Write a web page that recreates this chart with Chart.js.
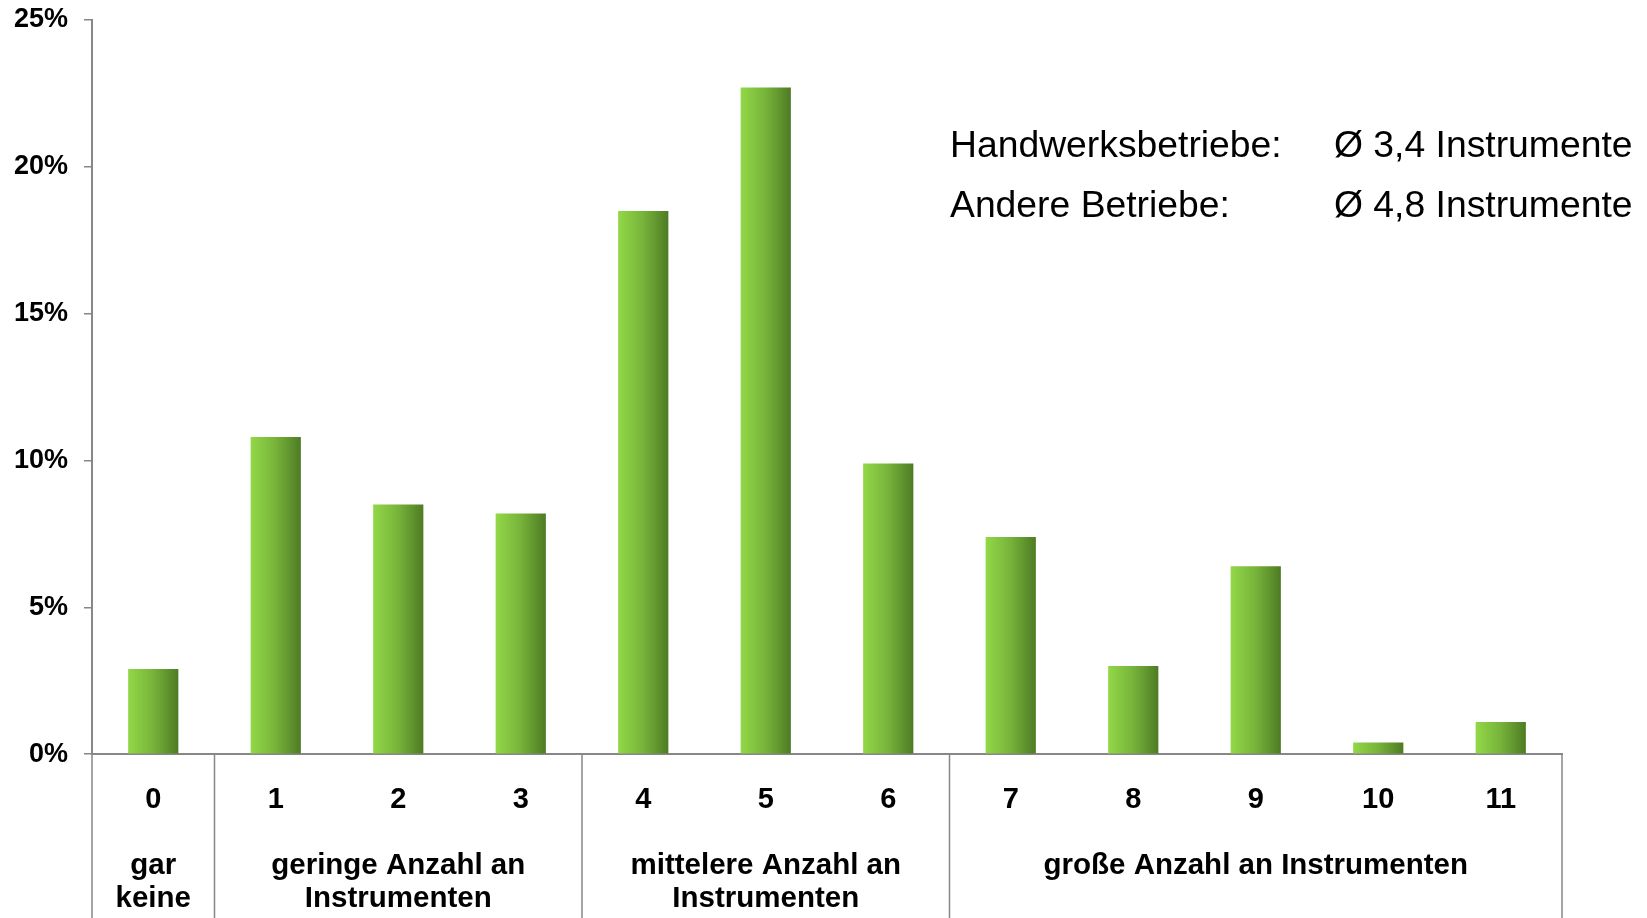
<!DOCTYPE html>
<html>
<head>
<meta charset="utf-8">
<title>Instrumente</title>
<style>
  * { margin: 0; padding: 0; box-sizing: border-box; }
  body { background: #fff; overflow: hidden; }
  #wrap { position: relative; width: 1647px; height: 918px; }
  .note {
    position: absolute;
    top: 113.6px;
    font-family: "Liberation Sans", Arial, sans-serif;
    font-size: 37.3px;
    line-height: 60.6px;
    color: #000;
    white-space: pre;
  }
</style>
</head>
<body>
<div id="wrap">
  <canvas id="myChart"></canvas>
  <div class="note" id="noteLeft" style="left:950px"></div>
  <div class="note" id="noteRight" style="left:1334px"></div>
</div>
<script src="https://cdn.jsdelivr.net/npm/chart.js"></script>
<script>
  // values (share of firms in %)
  const categories = ['0', '1', '2', '3', '4', '5', '6', '7', '8', '9', '10', '11'];
  const shares = [2.9, 10.8, 8.5, 8.2, 18.5, 22.7, 9.9, 7.4, 3.0, 6.4, 0.4, 1.1];

  // group captions under the numbers, placed at the middle category of each group
  const groupLabels = [
    ['gar', 'keine'], '', ['geringe Anzahl an', 'Instrumenten'], '', '',
    ['mittelere Anzahl an', 'Instrumenten'], '', '', '',
    ['große Anzahl an Instrumenten'], '', ''
  ];
  // first category of every group, plus the end
  const groupBounds = [0, 1, 4, 7, 12];

  const yTicks = [0, 5, 10, 15, 20, 25];

  const noteNames = ['Handwerksbetriebe:', 'Andere Betriebe:'];
  const noteValues = ['Ø 3,4 Instrumente', 'Ø 4,8 Instrumente'];

  document.getElementById('noteLeft').textContent = noteNames.join('\n');
  document.getElementById('noteRight').textContent = noteValues.join('\n');

  const axisGray = '#878787';
  const barShare = 0.41;

  Chart.defaults.font.family = '"Liberation Sans", Arial, sans-serif';
  Chart.defaults.color = '#000';

  // vertical separators between the groups, below the axis
  const groupLines = {
    id: 'groupLines',
    afterDraw(chart) {
      const x = chart.scales.x;
      const c = chart.ctx;
      c.save();
      c.strokeStyle = axisGray;
      c.lineWidth = 1.5;
      groupBounds.forEach(b => {
        const px = x.getPixelForValue(b - 0.5);
        c.beginPath();
        c.moveTo(px, x.top);
        c.lineTo(px, chart.height);
        c.stroke();
      });
      c.restore();
    }
  };

  function barFill(ctx) {
    const chart = ctx.chart;
    const x = chart.scales.x;
    if (!chart.chartArea || !x || ctx.dataIndex === undefined) return '#77b03a';
    const w = x.width / categories.length * barShare;
    const mid = x.getPixelForValue(ctx.dataIndex);
    const g = chart.ctx.createLinearGradient(mid - w / 2, 0, mid + w / 2, 0);
    g.addColorStop(0, '#92d848');
    g.addColorStop(0.5, '#77b33a');
    g.addColorStop(1, '#4e7b24');
    return g;
  }

  new Chart(document.getElementById('myChart'), {
    type: 'bar',
    data: {
      labels: categories,
      datasets: [{
        data: shares,
        backgroundColor: barFill,
        borderWidth: 0,
        barPercentage: barShare,
        categoryPercentage: 1
      }]
    },
    options: {
      responsive: true,
      maintainAspectRatio: false,
      animation: false,
      layout: { padding: { top: 20, right: 85, left: 0, bottom: 0 } },
      plugins: { legend: { display: false }, tooltip: { enabled: false } },
      scales: {
        x: {
          position: 'bottom',
          grid: { display: false, drawTicks: false },
          border: { display: true, color: axisGray, width: 2 },
          ticks: {
            autoSkip: false, maxRotation: 0, minRotation: 0,
            padding: 28,
            font: { size: 29, weight: 'bold' }
          }
        },
        groups: {
          type: 'category',
          position: 'bottom',
          offset: true,
          labels: groupLabels,
          grid: { display: false, drawTicks: false },
          border: { display: false },
          ticks: {
            autoSkip: false, maxRotation: 0, minRotation: 0,
            padding: 5,
            font: { size: 29.5, weight: 'bold', lineHeight: '32.7px' }
          },
          afterFit: s => { s.height = 73; }
        },
        y: {
          min: 0,
          max: 25,
          afterFit: s => { s.width = 92; s.paddingTop = 0; },
          afterBuildTicks: s => { s.ticks = yTicks.map(v => ({ value: v })); },
          grid: { drawOnChartArea: false, tickLength: 8, color: axisGray, lineWidth: 1.5 },
          border: { display: true, color: axisGray, width: 2 },
          ticks: {
            padding: 16,
            font: { size: 27, weight: 'bold' },
            callback: v => v + '%'
          }
        }
      }
    },
    plugins: [groupLines]
  });
</script>
</body>
</html>
